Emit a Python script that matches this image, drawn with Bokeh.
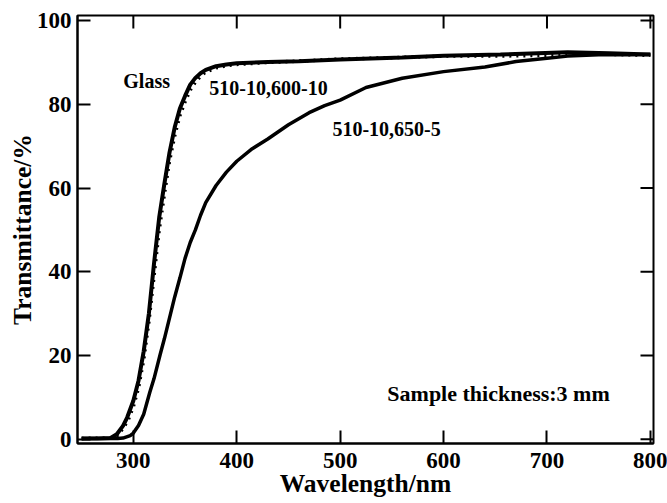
import math
from bokeh.plotting import figure
from bokeh.models import Range1d, FixedTicker, Label
from bokeh.embed import file_html
from bokeh.resources import INLINE

# ---- data ----
glass_wl = [250, 265, 278, 284, 290, 294, 300, 305, 310, 315, 320, 325, 330, 335, 340,
            345, 350, 355, 360, 365, 370, 380, 390, 400, 430, 460, 500, 560, 600, 655,
            720, 760, 800]
glass_t = [0.2, 0.2, 0.3, 1.2, 3.2, 5.2, 9.2, 14.0, 21.0, 30.0, 42.0, 53.0, 61.0, 68.5, 74.5,
           79.0, 82.0, 84.7, 86.3, 87.4, 88.2, 89.1, 89.5, 89.8, 90.1, 90.3, 90.7, 91.2, 91.6, 91.9,
           92.4, 92.2, 91.9]

s600_wl = [250, 278, 285, 290, 295, 300, 305, 310, 315, 320, 325, 330, 335, 340, 345,
           350, 355, 360, 365, 370, 380, 390, 400, 430, 460, 500, 560, 600, 650, 700,
           750, 800]
s600_t = [0.2, 0.3, 1.0, 2.6, 4.6, 7.8, 12.3, 19.0, 28.0, 39.0, 50.0, 58.5, 66.5, 72.5, 77.3,
          80.6, 83.4, 85.3, 86.7, 87.7, 88.7, 89.2, 89.5, 90.0, 90.3, 90.8, 91.2, 91.5, 91.5, 91.7,
          92.0, 91.7]

s650_wl = [250, 270, 285, 290, 297, 300, 305, 310, 316, 320, 326, 330, 335, 340, 345,
           350, 355, 360, 365, 370, 380, 390, 400, 415, 430, 450, 470, 485, 500, 525,
           560, 600, 640, 670, 700, 720, 750, 780, 800]
s650_t = [0.2, 0.2, 0.2, 0.3, 0.9, 1.5, 3.3, 6.0, 11.3, 14.5, 20.3, 24.0, 29.0, 34.0, 38.5,
          43.2, 47.0, 50.0, 53.5, 56.5, 60.6, 63.8, 66.4, 69.4, 71.7, 75.1, 78.0, 79.7, 81.0, 84.0,
          86.2, 87.8, 88.9, 90.2, 91.0, 91.5, 91.8, 91.8, 91.9]

x_ticks = [300, 400, 500, 600, 700, 800]
y_ticks = [0, 20, 40, 60, 80, 100]

label_texts = ["Glass", "510-10,600-10", "510-10,650-5", "Sample thickness:3 mm"]

FONT = "Liberation Serif"
X_LO, X_HI = 246, 803
Y_LO, Y_HI = -1, 101.2

p = figure(width=667, height=503, output_backend="svg", toolbar_location=None,
           x_range=Range1d(X_LO, X_HI), y_range=Range1d(Y_LO, Y_HI),
           min_border_left=77, min_border_right=14, min_border_top=15, min_border_bottom=60)
p.grid.visible = False
p.outline_line_color = "black"
p.outline_line_width = 2
p.background_fill_color = "white"
p.border_fill_color = "white"

# curves
p.line(s600_wl, s600_t, line_color="black", line_width=3.5, line_dash="2 5")
p.line(glass_wl, glass_t, line_color="black", line_width=4)
p.line(s650_wl, s650_t, line_color="black", line_width=3.5)

# mirrored inward ticks on top and right edges (clipped to the frame)
p.scatter(x=[X_HI] * len(y_ticks), y=y_ticks, marker="dash", size=26,
          line_color="black", line_width=2)
p.scatter(x=x_ticks, y=[Y_HI] * len(x_ticks), marker="dash", size=26, angle=math.pi / 2,
          line_color="black", line_width=2)

def style_axis(ax, ticks):
    ax.ticker = FixedTicker(ticks=ticks)
    ax.major_tick_in = 13
    ax.major_tick_out = 0
    ax.minor_tick_in = 0
    ax.minor_tick_out = 0
    ax.axis_line_width = 2
    ax.major_tick_line_width = 2
    ax.axis_line_color = "black"
    ax.major_tick_line_color = "black"
    ax.major_label_text_font = FONT
    ax.major_label_text_font_style = "bold"
    ax.major_label_text_font_size = "23px"
    ax.major_label_text_color = "black"
    ax.axis_label_text_font = FONT
    ax.axis_label_text_font_style = "bold"
    ax.axis_label_text_color = "black"
    ax.axis_label_text_font_size = "25.5px"

xa = p.xaxis[0]
style_axis(xa, x_ticks)
xa.axis_label = "Wavelength/nm"
xa.major_label_standoff = 9
xa.axis_label_standoff = -2

ya = p.yaxis[0]
style_axis(ya, y_ticks)
ya.axis_label = "Transmittance/%"
ya.major_label_standoff = 6
ya.axis_label_standoff = -3

# annotations
ann_pos = [(290.3, 85.6, "20px"), (373.5, 84.0, "20px"), (492.5, 74.0, "20px"), (545.6, 10.9, "22px")]
for txt, (lx, ly, fs) in zip(label_texts, ann_pos):
    p.add_layout(Label(x=lx, y=ly, text=txt, text_font=FONT, text_font_style="bold",
                       text_font_size=fs, text_color="black", text_baseline="alphabetic",
                       text_align="left"))

open("out.html", "w").write(file_html(p, INLINE))
